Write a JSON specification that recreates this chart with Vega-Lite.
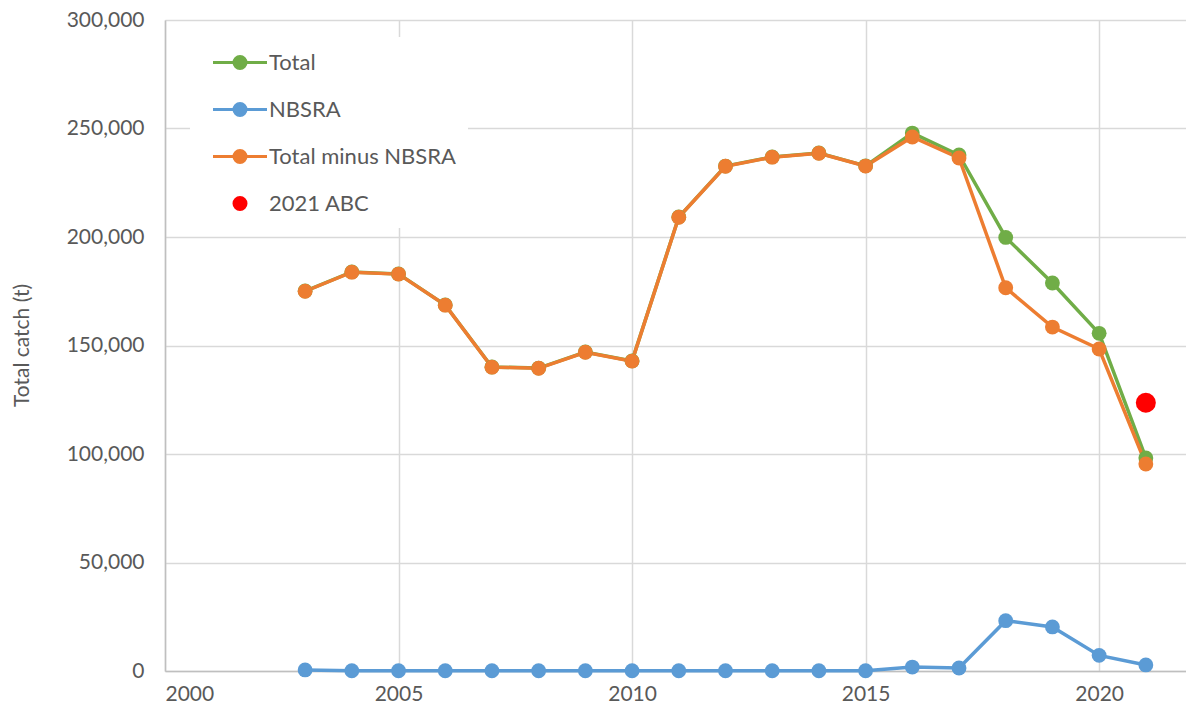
{
  "$schema": "https://vega.github.io/schema/vega-lite/v6.json",
  "width": 1021,
  "height": 651,
  "autosize": "none",
  "padding": {"left": 165, "top": 20, "right": 0, "bottom": 46},
  "background": "white",
  "config": {
    "font": "Lato",
    "view": {"stroke": null},
    "axis": {"labelFont": "Lato", "labelFontSize": 21, "labelColor": "#595959", "titleFont": "Lato", "titleColor": "#595959", "titleFontWeight": "normal", "gridColor": "#D9D9D9", "gridWidth": 1.5, "domainColor": "#BFBFBF", "domainWidth": 1.5, "ticks": false}
  },
  "data": {
    "values": [
      {"year": 2003, "series": "Total", "value": 175100},
      {"year": 2004, "series": "Total", "value": 183900},
      {"year": 2005, "series": "Total", "value": 183000},
      {"year": 2006, "series": "Total", "value": 168700},
      {"year": 2007, "series": "Total", "value": 140100},
      {"year": 2008, "series": "Total", "value": 139600},
      {"year": 2009, "series": "Total", "value": 147000},
      {"year": 2010, "series": "Total", "value": 142900},
      {"year": 2011, "series": "Total", "value": 209200},
      {"year": 2012, "series": "Total", "value": 232700},
      {"year": 2013, "series": "Total", "value": 236900},
      {"year": 2014, "series": "Total", "value": 238700},
      {"year": 2015, "series": "Total", "value": 232800},
      {"year": 2016, "series": "Total", "value": 247900},
      {"year": 2017, "series": "Total", "value": 237800},
      {"year": 2018, "series": "Total", "value": 199800},
      {"year": 2019, "series": "Total", "value": 178800},
      {"year": 2020, "series": "Total", "value": 155600},
      {"year": 2021, "series": "Total", "value": 98200},
      {"year": 2003, "series": "NBSRA", "value": 500},
      {"year": 2004, "series": "NBSRA", "value": 100},
      {"year": 2005, "series": "NBSRA", "value": 100},
      {"year": 2006, "series": "NBSRA", "value": 100},
      {"year": 2007, "series": "NBSRA", "value": 100},
      {"year": 2008, "series": "NBSRA", "value": 100},
      {"year": 2009, "series": "NBSRA", "value": 100},
      {"year": 2010, "series": "NBSRA", "value": 100},
      {"year": 2011, "series": "NBSRA", "value": 100},
      {"year": 2012, "series": "NBSRA", "value": 100},
      {"year": 2013, "series": "NBSRA", "value": 100},
      {"year": 2014, "series": "NBSRA", "value": 100},
      {"year": 2015, "series": "NBSRA", "value": 100},
      {"year": 2016, "series": "NBSRA", "value": 1800},
      {"year": 2017, "series": "NBSRA", "value": 1400},
      {"year": 2018, "series": "NBSRA", "value": 23200},
      {"year": 2019, "series": "NBSRA", "value": 20300},
      {"year": 2020, "series": "NBSRA", "value": 7200},
      {"year": 2021, "series": "NBSRA", "value": 2800},
      {"year": 2003, "series": "Total minus NBSRA", "value": 175000},
      {"year": 2004, "series": "Total minus NBSRA", "value": 183800},
      {"year": 2005, "series": "Total minus NBSRA", "value": 182900},
      {"year": 2006, "series": "Total minus NBSRA", "value": 168600},
      {"year": 2007, "series": "Total minus NBSRA", "value": 140000},
      {"year": 2008, "series": "Total minus NBSRA", "value": 139500},
      {"year": 2009, "series": "Total minus NBSRA", "value": 146900},
      {"year": 2010, "series": "Total minus NBSRA", "value": 142800},
      {"year": 2011, "series": "Total minus NBSRA", "value": 209100},
      {"year": 2012, "series": "Total minus NBSRA", "value": 232600},
      {"year": 2013, "series": "Total minus NBSRA", "value": 236800},
      {"year": 2014, "series": "Total minus NBSRA", "value": 238600},
      {"year": 2015, "series": "Total minus NBSRA", "value": 232700},
      {"year": 2016, "series": "Total minus NBSRA", "value": 246100},
      {"year": 2017, "series": "Total minus NBSRA", "value": 236400},
      {"year": 2018, "series": "Total minus NBSRA", "value": 176600},
      {"year": 2019, "series": "Total minus NBSRA", "value": 158500},
      {"year": 2020, "series": "Total minus NBSRA", "value": 148400},
      {"year": 2021, "series": "Total minus NBSRA", "value": 95400},
      {"year": 2021, "series": "2021 ABC", "value": 123600}
    ]
  },
  "encoding": {
    "x": {"field": "year", "type": "quantitative", "scale": {"domain": [2000, 2021.86], "nice": false, "zero": false},
      "axis": {"values": [2000, 2005, 2010, 2015, 2020], "format": "d", "title": null, "labelPadding": 12}},
    "y": {"field": "value", "type": "quantitative", "scale": {"domain": [0, 300000], "nice": false},
      "axis": {"values": [0, 50000, 100000, 150000, 200000, 250000, 300000], "format": ",d", "title": "Total catch (t)", "titleFontSize": 21, "labelPadding": 21, "titleX": -143, "titleY": 325, "titleAlign": "center", "titleBaseline": "middle"}},
    "color": {"field": "series", "type": "nominal",
      "scale": {"domain": ["Total", "NBSRA", "Total minus NBSRA", "2021 ABC"], "range": ["#70AD47", "#5B9BD5", "#ED7D31", "#FF0000"]},
      "legend": {
        "title": null, "orient": "none", "legendX": 25, "legendY": 17,
        "fillColor": "white", "padding": 12,
        "labelFont": "Lato", "labelFontSize": 22, "labelColor": "#595959", "labelOffset": 40,
        "symbolSize": 576, "rowPadding": 21, "labelLimit": 400,
        "values": ["Total", "NBSRA", "Total minus NBSRA", "2021 ABC"],
        "encode": {
          "symbols": {"update": {
            "shape": {"signal": "datum.value === '2021 ABC' ? 'M-0.5,0A0.5,0.5,0,1,0,0.5,0A0.5,0.5,0,1,0,-0.5,0Z' : 'M-2.25,0H2.25M-0.5,0A0.5,0.5,0,1,0,0.5,0A0.5,0.5,0,1,0,-0.5,0Z'"},
            "x": {"value": 38},
            "fill": {"signal": "scale('color', datum.value)"},
            "stroke": {"signal": "scale('color', datum.value)"},
            "strokeWidth": {"value": 3},
            "opacity": {"value": 1},
            "fillOpacity": {"value": 1},
            "strokeOpacity": {"value": 1}
          }}
        }
      }}
  },
  "layer": [
    {
      "transform": [{"filter": "datum.series !== '2021 ABC'"}],
      "mark": {"type": "line", "strokeWidth": 3.5},
      "encoding": {"order": {"field": "year"}}
    },
    {
      "transform": [{"filter": "datum.series !== '2021 ABC'"}],
      "mark": {"type": "point", "filled": true, "opacity": 1, "size": 220, "shape": "circle"}
    },
    {
      "transform": [{"filter": "datum.series === '2021 ABC'"}],
      "mark": {"type": "point", "filled": true, "opacity": 1, "size": 400, "shape": "circle"}
    }
  ]
}
